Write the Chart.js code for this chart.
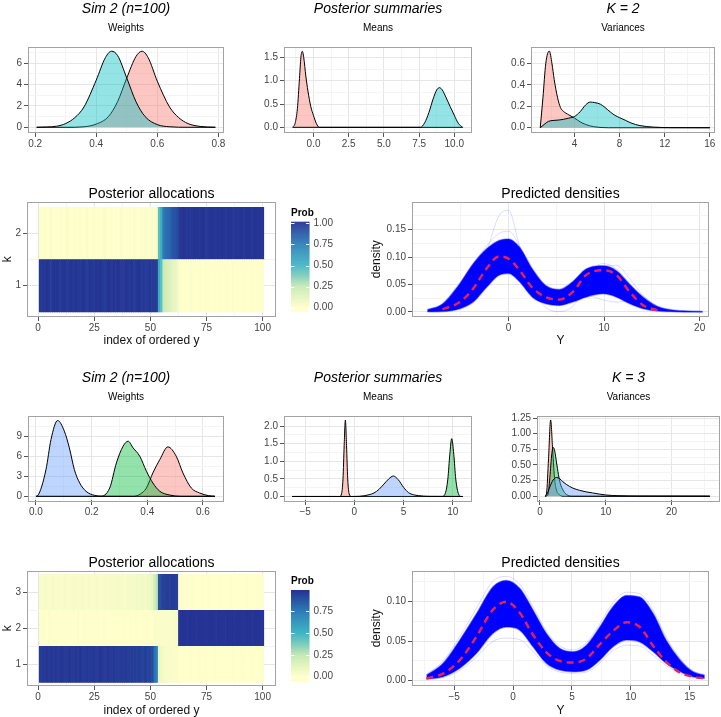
<!DOCTYPE html>
<html>
<head>
<meta charset="utf-8">
<script src="https://cdn.jsdelivr.net/npm/chart.js@4.4.1/dist/chart.umd.min.js"></script>
<style>
  body { margin: 0; background: #fff; }
  #fig { position: relative; width: 721px; height: 717px; overflow: hidden; }
  .pane { position: absolute; }
</style>
</head>
<body>
<div id="fig"></div>
<script>
// ---- K = 2 : posterior densities (x = value, y = density) ----
const w2RedX = [0.205, 0.30, 0.36, 0.40, 0.44, 0.47, 0.50, 0.53, 0.55, 0.57, 0.60, 0.64, 0.67, 0.70, 0.74, 0.79];
const w2RedY = [0, 0, 0.05, 0.3, 1.0, 2.4, 4.6, 6.6, 7.1, 6.5, 4.3, 1.9, 0.9, 0.35, 0.08, 0];
const w2CyanX = [0.205, 0.27, 0.30, 0.33, 0.36, 0.40, 0.43, 0.45, 0.47, 0.50, 0.53, 0.56, 0.60, 0.64, 0.70, 0.79];
const w2CyanY = [0, 0.1, 0.35, 0.9, 1.9, 4.4, 6.5, 7.1, 6.7, 4.6, 2.4, 1.0, 0.25, 0.05, 0, 0];

const m2RedX = [-1.48, -1.3, -1.15, -1.0, -0.9, -0.8, -0.7, -0.55, -0.4, -0.2, 0.0, 0.2, 0.41, 10.6];
const m2RedY = [0, 0.1, 0.4, 1.05, 1.5, 1.63, 1.5, 1.1, 0.78, 0.45, 0.25, 0.08, 0, 0];
const m2CyanX = [-1.48, 7.6, 7.9, 8.2, 8.5, 8.75, 8.95, 9.15, 9.4, 9.7, 10.0, 10.3, 10.6];
const m2CyanY = [0, 0, 0.1, 0.32, 0.61, 0.8, 0.85, 0.8, 0.65, 0.45, 0.26, 0.08, 0];

const v2RedX = [0.96, 1.2, 1.45, 1.76, 2.0, 2.2, 2.5, 2.75, 3.0, 3.5, 4.0, 4.5, 5.0, 5.7, 7, 16];
const v2RedY = [0, 0.28, 0.6, 0.718, 0.6, 0.45, 0.28, 0.19, 0.155, 0.12, 0.09, 0.055, 0.03, 0.01, 0, 0];
const v2CyanX = [0.96, 1.3, 1.7, 2.1, 2.6, 3.0, 3.5, 4.0, 4.5, 5.0, 5.4, 5.8, 6.3, 6.7, 7.2, 7.6, 8.0, 8.5, 9.0, 9.8, 11, 12.5, 16];
const v2CyanY = [0, 0.03, 0.06, 0.068, 0.072, 0.078, 0.09, 0.105, 0.15, 0.215, 0.24, 0.235, 0.22, 0.19, 0.145, 0.115, 0.094, 0.07, 0.045, 0.02, 0.006, 0.001, 0];

// ---- K = 3 : posterior densities ----
const w3RedX = [0.0, 0.35, 0.375, 0.397, 0.42, 0.445, 0.474, 0.504, 0.528, 0.558, 0.588, 0.62, 0.643];
const w3RedY = [0, 0, 0.35, 1.25, 3.5, 5.5, 7.4, 6.0, 3.5, 1.25, 0.5, 0.1, 0];
const w3GreenX = [0.0, 0.23, 0.265, 0.289, 0.313, 0.331, 0.349, 0.373, 0.397, 0.42, 0.445, 0.48, 0.52, 0.643];
const w3GreenY = [0, 0, 1.25, 5.0, 7.5, 8.25, 7.25, 6.0, 3.75, 2.0, 0.75, 0.2, 0, 0];
const w3BlueX = [0.0, 0.006, 0.036, 0.054, 0.078, 0.102, 0.12, 0.138, 0.157, 0.18, 0.21, 0.25, 0.643];
const w3BlueY = [0, 0.1, 4.0, 8.5, 11.35, 9.75, 7.25, 4.0, 2.0, 0.75, 0.15, 0, 0];

const m3RedX = [-6.3, -1.5, -1.3, -1.15, -1.03, -0.91, -0.79, -0.67, -0.52, -0.3, 11];
const m3RedY = [0, 0, 0.07, 0.5, 1.45, 2.17, 1.45, 0.5, 0.07, 0, 0];
const m3GreenX = [-6.3, 8.9, 9.2, 9.5, 9.7, 9.89, 10.1, 10.3, 10.6, 10.85, 11];
const m3GreenY = [0, 0, 0.06, 0.5, 1.2, 1.64, 1.2, 0.5, 0.06, 0, 0];
const m3BlueX = [-6.3, 0, 1.0, 1.5, 2.0, 2.5, 3.0, 3.5, 3.96, 4.45, 5.0, 5.5, 6.0, 6.5, 7.5, 11];
const m3BlueY = [0, 0, 0.02, 0.05, 0.1, 0.2, 0.35, 0.5, 0.58, 0.48, 0.26, 0.11, 0.05, 0.025, 0.005, 0];

const v3RedX = [0.76, 1.0, 1.3, 1.62, 1.9, 2.2, 2.5, 2.9, 3.5, 25.8];
const v3RedY = [0, 0.05, 0.6, 1.22, 0.8, 0.3, 0.1, 0.03, 0, 0];
const v3GreenX = [0.76, 1.2, 1.5, 1.8, 2.02, 2.25, 2.5, 2.8, 3.1, 3.5, 4.0, 5.0, 25.8];
const v3GreenY = [0, 0.02, 0.3, 0.68, 0.78, 0.72, 0.55, 0.35, 0.2, 0.1, 0.03, 0, 0];
const v3BlueX = [0.76, 1.0, 1.5, 2.0, 2.53, 3.0, 3.5, 4.0, 5.0, 6.0, 7.0, 8.0, 9.0, 10.0, 12.0, 15.0, 25.8];
const v3BlueY = [0, 0.02, 0.15, 0.26, 0.30, 0.28, 0.23, 0.19, 0.13, 0.095, 0.07, 0.053, 0.035, 0.02, 0.008, 0.002, 0];

// ---- posterior allocation probabilities, one value per ordered observation ----
const k2p1 = [0.99,1,0.98,1,0.99,0.97,1,0.99,1,0.98, 0.99,1,0.97,0.99,1,0.98,1,0.99,0.98,1,
  0.99,0.97,1,0.99,0.98,1,0.99,1,0.98,0.97, 1,0.99,0.98,1,0.99,1,0.97,0.98,1,0.99,
  0.98,1,0.97,0.99,1,0.98,0.99,0.97,0.98,0.99, 0.97,0.98,0.96,0.55,0.45,0.24,0.2,0.18,0.15,0.12,
  0.1,0.08,0.02,0.01,0,0.01,0,0.02,0.01,0, 0,0.01,0,0,0.02,0.01,0,0,0.01,0,
  0.01,0,0,0.01,0,0,0.02,0,0.01,0, 0,0.01,0,0,0.01,0,0,0.01,0,0];
const k2p2 = [0.01,0,0.02,0,0.01,0.03,0,0.01,0,0.02, 0.01,0,0.03,0.01,0,0.02,0,0.01,0.02,0,
  0.01,0.03,0,0.01,0.02,0,0.01,0,0.02,0.03, 0,0.01,0.02,0,0.01,0,0.03,0.02,0,0.01,
  0.02,0,0.03,0.01,0,0.02,0.01,0.03,0.02,0.01, 0.03,0.02,0.04,0.45,0.55,0.76,0.8,0.82,0.85,0.88,
  0.9,0.92,0.98,0.99,1,0.99,1,0.98,0.99,1, 1,0.99,1,1,0.98,0.99,1,1,0.99,1,
  0.99,1,1,0.99,1,1,0.98,1,0.99,1, 1,0.99,1,1,0.99,1,1,0.99,1,1];
const k3p1 = [0.96,0.97,0.95,0.97,0.96,0.98,0.95,0.97,0.96,0.97, 0.97,0.95,0.96,0.98,0.96,0.95,0.97,0.96,0.98,0.95,
  0.96,0.97,0.95,0.96,0.97,0.95,0.96,0.98,0.96,0.95, 0.97,0.96,0.95,0.97,0.96,0.94,0.96,0.95,0.97,0.95,
  0.94,0.96,0.95,0.93,0.95,0.94,0.93,0.95,0.92,0.93, 0.91,0.78,0.72,0.1,0.06,0.05,0.04,0.03,0.03,0.02,
  0.02,0.02,0.01,0,0.01,0,0,0.01,0,0, 0,0.01,0,0,0.01,0,0,0,0.01,0,
  0,0,0.01,0,0,0,0.01,0,0,0, 0.01,0,0,0,0.01,0,0,0,0,0.01];
const k3p2 = [0.01,0.01,0.01,0,0.02,0.01,0.01,0.01,0.01,0, 0.01,0.01,0.01,0,0.01,0.01,0,0.02,0,0.01,
  0.01,0.01,0.01,0.01,0.01,0.01,0.01,0,0.01,0.01, 0,0,0.01,0,0,0,0,0.01,0,0,
  0.01,0,0,0.01,0,0,0.01,0,0.01,0, 0,0.02,0.02,0.02,0.02,0.02,0.02,0.02,0.02,0.02,
  0.03,0.04,0.97,0.98,0.99,0.98,0.99,0.98,0.98,0.99, 0.99,0.98,0.98,0.99,0.98,0.98,0.99,0.99,0.98,0.99,
  0.98,0.99,0.98,0.99,0.99,0.98,0.98,0.99,0.99,0.98, 0.98,0.99,0.98,0.99,0.98,0.99,0.99,0.98,0.99,0.98];
const k3p3 = [0.03,0.02,0.04,0.03,0.02,0.03,0.04,0.02,0.03,0.03, 0.02,0.04,0.03,0.02,0.03,0.04,0.03,0.02,0.03,0.04,
  0.03,0.02,0.04,0.03,0.02,0.04,0.03,0.02,0.03,0.04, 0.03,0.04,0.04,0.03,0.04,0.05,0.04,0.04,0.03,0.05,
  0.05,0.04,0.05,0.06,0.05,0.06,0.06,0.05,0.07,0.07, 0.09,0.2,0.26,0.88,0.92,0.93,0.94,0.95,0.95,0.96,
  0.95,0.94,0.01,0.01,0,0.01,0,0,0.01,0, 0,0,0.01,0,0,0.01,0,0,0,0,
  0.01,0,0,0,0,0.01,0,0,0,0.01, 0,0,0.01,0,0,0,0,0.01,0,0];
const probLimK2 = 1.0;
const probLimK3 = 0.98;
const probTicksK2 = [0, 0.25, 0.5, 0.75, 1.0];
const probLabelsK2 = ['0.00', '0.25', '0.50', '0.75', '1.00'];
const probTicksK3 = [0, 0.25, 0.5, 0.75];
const probLabelsK3 = ['0.00', '0.25', '0.50', '0.75'];

// ---- predicted densities: envelope of the draws, posterior mean, a few stray draws ----
const d2X = [-8.5, -6.9, -5.1, -3.7, -2.3, -1.0, 0, 1.15, 2.5, 3.9, 5.3, 6.7, 8.1, 9.9, 11.3, 12.7, 14.1, 15.6, 17.4, 19.2, 20.3];
const d2Upper = [0.004, 0.015, 0.052, 0.088, 0.115, 0.13, 0.133, 0.118, 0.078, 0.048, 0.041, 0.055, 0.078, 0.084, 0.075, 0.05, 0.027, 0.01, 0.003, 0.0015, 0.001];
const d2Lower = [0.0005, 0.001, 0.006, 0.018, 0.045, 0.067, 0.07, 0.055, 0.027, 0.015, 0.012, 0.018, 0.027, 0.033, 0.027, 0.015, 0.006, 0.002, 0.0005, 0, 0];
const d2Spike = [0.002, 0.006, 0.02, 0.05, 0.11, 0.175, 0.185, 0.12, 0.055, 0.03, 0.025, 0.035, 0.06, 0.075, 0.068, 0.045, 0.02, 0.006, 0.002, 0.001, 0.0005];
const d2High = [0.003, 0.012, 0.045, 0.085, 0.12, 0.143, 0.147, 0.12, 0.07, 0.04, 0.035, 0.045, 0.07, 0.088, 0.078, 0.05, 0.025, 0.008, 0.002, 0.001, 0];
const d2Dip = [0.001, 0.004, 0.015, 0.04, 0.08, 0.11, 0.115, 0.09, 0.04, 0.008, 0.001, 0.01, 0.045, 0.08, 0.085, 0.06, 0.03, 0.01, 0.002, 0, 0];
const d2Low = [0.001, 0.003, 0.012, 0.03, 0.055, 0.07, 0.072, 0.06, 0.04, 0.03, 0.028, 0.03, 0.03, 0.022, 0.018, 0.02, 0.012, 0.004, 0.001, 0, 0];
const d2MeanX = [-6.9, -5.1, -3.7, -2.3, -1.0, 0, 1.15, 2.5, 3.9, 5.3, 6.7, 8.1, 9.9, 11.3, 12.7, 14.1, 15.6];
const d2Mean = [0.005, 0.018, 0.0425, 0.079, 0.101, 0.097, 0.076, 0.044, 0.027, 0.0225, 0.036, 0.067, 0.076, 0.067, 0.036, 0.012, 0.003];

const d3X = [-7.35, -5.94, -4.52, -3.1, -1.7, -0.57, 0.57, 1.7, 2.83, 3.96, 5.1, 6.23, 7.36, 8.49, 9.63, 10.76, 11.9, 13.0, 14.2, 15.28, 16.27];
const d3Upper = [0.007, 0.022, 0.0515, 0.085, 0.119, 0.127, 0.117, 0.0895, 0.06, 0.041, 0.0367, 0.045, 0.068, 0.094, 0.108, 0.106, 0.085, 0.0515, 0.026, 0.0114, 0.007];
const d3Lower = [0.002, 0.005, 0.0157, 0.0347, 0.06, 0.068, 0.064, 0.043, 0.022, 0.0135, 0.0114, 0.0135, 0.026, 0.043, 0.0515, 0.049, 0.0367, 0.022, 0.0114, 0.005, 0.003];
const d3High = [0.008, 0.025, 0.056, 0.092, 0.126, 0.132, 0.122, 0.094, 0.063, 0.044, 0.039, 0.048, 0.072, 0.099, 0.112, 0.11, 0.089, 0.055, 0.028, 0.012, 0.007];
const d3Low = [0.001, 0.004, 0.013, 0.03, 0.05, 0.054, 0.052, 0.037, 0.019, 0.011, 0.0095, 0.011, 0.022, 0.038, 0.045, 0.044, 0.032, 0.019, 0.009, 0.004, 0.002];
const d3Mean = [0.003, 0.009, 0.026, 0.056, 0.09, 0.1, 0.086, 0.058, 0.036, 0.025, 0.023, 0.028, 0.046, 0.063, 0.074, 0.068, 0.044, 0.024, 0.01, 0.005, 0.003];

// ---- styling ----
const FONT = "'Liberation Sans', Arial, Helvetica, sans-serif";
const INK = '#444';
const RED = '248,118,109', CYAN = '0,191,196', GREEN = '0,186,56', BLUE = '97,156,255';
const palStops = [0, 0.25, 0.375, 0.5, 0.75, 1];
const palCols = [[255, 255, 204], [199, 233, 180], [127, 205, 187], [65, 182, 196], [44, 127, 184], [37, 52, 148]];

Chart.defaults.font.family = FONT;

function fillColor(t) {
  t = Math.max(0, Math.min(1, t));
  let i = 0;
  while (i < palStops.length - 2 && t > palStops[i + 1]) i++;
  const f = (t - palStops[i]) / (palStops[i + 1] - palStops[i]);
  const a = palCols[i], b = palCols[i + 1];
  return 'rgb(' + a.map((c, j) => Math.round(c + (b[j] - c) * f)).join(',') + ')';
}

function makeCanvas(box) {
  const d = document.createElement('div');
  d.className = 'pane';
  d.style.left = box.x + 'px'; d.style.top = box.y + 'px';
  d.style.width = box.w + 'px'; d.style.height = box.h + 'px';
  const c = document.createElement('canvas');
  d.appendChild(c);
  document.getElementById('fig').appendChild(d);
  return c;
}

// linear axis with ggplot-like major + minor grid
function axis(a) {
  const major = a.major, minor = a.minor || [];
  return {
    type: 'linear', min: a.min, max: a.max, offset: false,
    afterBuildTicks: s => {
      s.ticks = major.map(v => ({ value: v }))
        .concat(minor.map(v => ({ value: v, minor: true })))
        .sort((p, q) => p.value - q.value);
    },
    afterFit: s => { if (a.x) s.height = a.size; else s.width = a.size; },
    ticks: {
      autoSkip: false, maxRotation: 0, minRotation: 0, padding: a.x ? 1 : 2, color: INK,
      font: { family: FONT, size: 10 },
      callback: v => { const i = major.indexOf(v); return i < 0 ? '' : a.labels[i]; }
    },
    grid: {
      offset: false, tickLength: 5,
      color: c => (c.tick && c.tick.minor) ? '#f4f4f4' : '#e6e6e6',
      tickColor: c => (c.tick && c.tick.minor) ? 'rgba(0,0,0,0)' : '#555'
    },
    border: { display: false },
    title: a.title
      ? { display: true, text: a.title, color: '#111', font: { family: FONT, size: 12 }, padding: 0 }
      : { display: false }
  };
}

const boxPlugin = {
  id: 'panelBox',
  afterDatasetsDraw(chart) {
    const a = chart.chartArea, ctx = chart.ctx;
    ctx.save();
    ctx.strokeStyle = '#a3a3a3';
    ctx.lineWidth = 1;
    ctx.strokeRect(Math.round(a.left) - 0.5, Math.round(a.top) - 0.5,
      Math.round(a.right - a.left) + 1, Math.round(a.bottom - a.top) + 1);
    ctx.restore();
  }
};

function titles(main, sub, italic, pads) {
  return {
    title: {
      display: true, text: main, fullSize: false, color: '#000',
      font: { family: FONT, size: 14, style: italic ? 'italic' : 'normal', weight: 'normal' },
      padding: { top: pads[0], bottom: pads[1] }
    },
    subtitle: sub ? {
      display: true, text: sub, fullSize: false, color: '#000',
      font: { family: FONT, size: 10 }, padding: { top: pads[2], bottom: pads[3] }
    } : { display: false },
    legend: { display: false },
    tooltip: { enabled: false }
  };
}

function baseOptions(padR, scales, plugins) {
  return {
    responsive: true, maintainAspectRatio: false, animation: false, events: [],
    layout: { padding: { left: 0, right: padR, top: 0, bottom: 0 } },
    scales, plugins
  };
}

function densityPanel(p) {
  const sets = p.curves.map((cv, i) => ({
    data: cv[0].map((x, j) => ({ x, y: cv[1][j] })),
    borderColor: '#000', borderWidth: 1, backgroundColor: 'rgba(' + cv[2] + ',0.42)',
    fill: 'origin', pointRadius: 0, cubicInterpolationMode: 'monotone', order: p.curves.length - i
  }));
  new Chart(makeCanvas(p.box), {
    type: 'line',
    data: { datasets: sets },
    options: baseOptions(p.padR, {
      x: axis(Object.assign({ x: true, size: 18 }, p.xa)),
      y: axis(Object.assign({ x: false, size: p.yW }, p.ya))
    }, titles(p.title, p.sub, true, p.pads)),
    plugins: [boxPlugin]
  });
}

function colorbarPlugin(box, cb) {
  return {
    id: 'colorbar',
    afterDraw(chart) {
      const ctx = chart.ctx;
      const x0 = cb.x - box.x, y0 = cb.top - box.y, y1 = cb.bottom - box.y;
      const toY = v => y0 + (cb.hi - v) / (cb.hi - cb.lo) * (y1 - y0);
      ctx.save();
      for (let py = y0; py < y1; py += 1) {
        const v = cb.hi - (py + 0.5 - y0) / (y1 - y0) * (cb.hi - cb.lo);
        ctx.fillStyle = fillColor(v / cb.lim);
        ctx.fillRect(x0, py, cb.w, Math.min(1.2, y1 - py));
      }
      ctx.strokeStyle = '#fff';
      ctx.lineWidth = 1;
      cb.ticks.forEach(v => {
        const y = Math.round(toY(v)) + 0.5;
        ctx.beginPath();
        ctx.moveTo(x0, y); ctx.lineTo(x0 + 3.5, y);
        ctx.moveTo(x0 + cb.w - 3.5, y); ctx.lineTo(x0 + cb.w, y);
        ctx.stroke();
      });
      ctx.fillStyle = INK;
      ctx.font = '10px ' + FONT;
      ctx.textBaseline = 'middle';
      ctx.textAlign = 'left';
      cb.ticks.forEach((v, i) => ctx.fillText(cb.labels[i], x0 + cb.w + 4, toY(v)));
      ctx.fillStyle = '#000';
      ctx.font = 'bold 10px ' + FONT;
      ctx.fillText('Prob', x0, cb.titleY - box.y);
      ctx.restore();
    }
  };
}

function heatPanel(p) {
  const idx = p.rows[0].map((_, i) => i + 1);
  const sets = p.rows.map((vals, r) => ({
    data: vals.map((v, i) => ({ x: idx[i], y: [r + 0.5, r + 1.5] })),
    backgroundColor: vals.map(v => fillColor(v / p.lim)),
    borderWidth: 0, barPercentage: 1, categoryPercentage: 1, grouped: false
  }));
  new Chart(makeCanvas(p.box), {
    type: 'bar',
    data: { datasets: sets },
    options: baseOptions(70, {
      x: axis({ x: true, size: p.xH, min: -4.5, max: 105.5, major: [0, 25, 50, 75, 100],
        labels: ['0', '25', '50', '75', '100'], minor: [12.5, 37.5, 62.5, 87.5], title: 'index of ordered y' }),
      y: axis(Object.assign({ x: false, size: 28, title: 'k' }, p.ya))
    }, titles('Posterior allocations', null, false, [p.padTop, p.padBottom, 0, 0])),
    plugins: [boxPlugin, colorbarPlugin(p.box, p.cb)]
  });
}

function predictedPanel(p) {
  const pts = (xs, ys) => xs.map((x, i) => ({ x, y: ys[i] }));
  const line = { pointRadius: 0, cubicInterpolationMode: 'monotone', fill: false };
  const sets = [
    Object.assign({ data: pts(p.meanX, p.mean), borderColor: 'rgb(235,35,75)', borderWidth: 2.4, borderDash: [7, 5], order: 0 }, line),
    Object.assign({}, line, { data: pts(p.xs, p.upper), borderColor: 'rgba(30,30,255,0.45)', borderWidth: 1.5,
      fill: '+1', backgroundColor: 'rgb(0,0,255)', order: 1 }),
    Object.assign({ data: pts(p.xs, p.lower), borderColor: 'rgba(30,30,255,0.45)', borderWidth: 1.5, order: 2 }, line)
  ];
  p.stray.forEach((ys, i) => sets.push(Object.assign({ data: pts(p.xs, ys),
    borderColor: 'rgba(0,0,255,0.14)', borderWidth: 1, order: 3 + i }, line)));
  new Chart(makeCanvas(p.box), {
    type: 'line',
    data: { datasets: sets },
    options: baseOptions(6, {
      x: axis(Object.assign({ x: true, size: p.xH, title: 'Y' }, p.xa)),
      y: axis(Object.assign({ x: false, size: 44, title: 'density' }, p.ya))
    }, titles('Predicted densities', null, false, [p.padTop, 0, 0, 0])),
    plugins: [boxPlugin]
  });
}

// ---- row 1 : K = 2 summaries ----
const pads1 = [0.6, 2, 2.9, 13.7];
densityPanel({ box: { x: 0, y: 0, w: 231, h: 150 }, yW: 29, padR: 8, title: 'Sim 2 (n=100)', sub: 'Weights', pads: pads1,
  curves: [[w2RedX, w2RedY, RED], [w2CyanX, w2CyanY, CYAN]],
  xa: { min: 0.18, max: 0.815, major: [0.2, 0.4, 0.6, 0.8], labels: ['0.2', '0.4', '0.6', '0.8'], minor: [0.3, 0.5, 0.7] },
  ya: { min: -0.44, max: 7.4, major: [0, 2, 4, 6], labels: ['0', '2', '4', '6'], minor: [1, 3, 5, 7] } });
densityPanel({ box: { x: 255, y: 0, w: 224, h: 150 }, yW: 30, padR: 8, title: 'Posterior summaries', sub: 'Means', pads: pads1,
  curves: [[m2RedX, m2RedY, RED], [m2CyanX, m2CyanY, CYAN]],
  xa: { min: -2.03, max: 11.19, major: [0, 2.5, 5, 7.5, 10], labels: ['0.0', '2.5', '5.0', '7.5', '10.0'], minor: [-1.25, 1.25, 3.75, 6.25, 8.75] },
  ya: { min: -0.1, max: 1.7, major: [0, 0.5, 1, 1.5], labels: ['0.0', '0.5', '1.0', '1.5'], minor: [0.25, 0.75, 1.25] } });
densityPanel({ box: { x: 502, y: 0, w: 218, h: 150 }, yW: 30, padR: 6, title: 'K = 2', sub: 'Variances', pads: pads1,
  curves: [[v2RedX, v2RedY, RED], [v2CyanX, v2CyanY, CYAN]],
  xa: { min: 0.23, max: 16.37, major: [4, 8, 12, 16], labels: ['4', '8', '12', '16'], minor: [2, 6, 10, 14] },
  ya: { min: -0.04, max: 0.746, major: [0, 0.2, 0.4, 0.6], labels: ['0.0', '0.2', '0.4', '0.6'], minor: [0.1, 0.3, 0.5, 0.7] } });

// ---- row 2 : K = 2 allocations and predictions ----
heatPanel({ box: { x: 0, y: 180, w: 345, h: 168 }, xH: 32, padTop: 5.8, padBottom: 0.1, rows: [k2p1, k2p2], lim: probLimK2,
  ya: { min: 0.42, max: 2.59, major: [1, 2], labels: ['1', '2'], minor: [1.5] },
  cb: { x: 291, w: 18.5, top: 221.7, bottom: 311.7, lo: -0.047, hi: 1.019, lim: probLimK2, ticks: probTicksK2, labels: probLabelsK2, titleY: 213.3 } });
predictedPanel({ box: { x: 369, y: 180, w: 345, h: 168 }, xH: 32, padTop: 5.8,
  xs: d2X, upper: d2Upper, lower: d2Lower, meanX: d2MeanX, mean: d2Mean, stray: [d2Spike, d2High, d2Dip, d2Low],
  xa: { min: -10, max: 20.87, major: [0, 10, 20], labels: ['0', '10', '20'], minor: [-5, 5, 15] },
  ya: { min: -0.0073, max: 0.199, major: [0, 0.05, 0.1, 0.15], labels: ['0.00', '0.05', '0.10', '0.15'], minor: [0.025, 0.075, 0.125, 0.175] } });

// ---- row 3 : K = 3 summaries ----
const pads3 = [9.9, 2, 2.5, 13.3];
densityPanel({ box: { x: 0, y: 360, w: 231, h: 158 }, yW: 29, padR: 8, title: 'Sim 2 (n=100)', sub: 'Weights', pads: pads3,
  curves: [[w3RedX, w3RedY, RED], [w3GreenX, w3GreenY, GREEN], [w3BlueX, w3BlueY, BLUE]],
  xa: { min: -0.025, max: 0.672, major: [0, 0.2, 0.4, 0.6], labels: ['0.0', '0.2', '0.4', '0.6'], minor: [0.1, 0.3, 0.5] },
  ya: { min: -0.55, max: 11.95, major: [0, 3, 6, 9], labels: ['0', '3', '6', '9'], minor: [1.5, 4.5, 7.5, 10.5] } });
densityPanel({ box: { x: 255, y: 360, w: 224, h: 158 }, yW: 30, padR: 8, title: 'Posterior summaries', sub: 'Means', pads: pads3,
  curves: [[m3RedX, m3RedY, RED], [m3GreenX, m3GreenY, GREEN], [m3BlueX, m3BlueY, BLUE]],
  xa: { min: -7.04, max: 11.85, major: [-5, 0, 5, 10], labels: ['\u22125', '0', '5', '10'], minor: [-2.5, 2.5, 7.5] },
  ya: { min: -0.1, max: 2.27, major: [0, 0.5, 1, 1.5, 2], labels: ['0.0', '0.5', '1.0', '1.5', '2.0'], minor: [0.25, 0.75, 1.25, 1.75] } });
densityPanel({ box: { x: 508, y: 360, w: 213, h: 158 }, yW: 30, padR: 2, title: 'K = 3', sub: 'Variances', pads: pads3,
  curves: [[v3RedX, v3RedY, RED], [v3GreenX, v3GreenY, GREEN], [v3BlueX, v3BlueY, BLUE]],
  xa: { min: -0.3, max: 27.2, major: [0, 10, 20], labels: ['0', '10', '20'], minor: [5, 15, 25] },
  ya: { min: -0.06, max: 1.275, major: [0, 0.25, 0.5, 0.75, 1, 1.25], labels: ['0.00', '0.25', '0.50', '0.75', '1.00', '1.25'],
    minor: [0.125, 0.375, 0.625, 0.875, 1.125] } });

// ---- row 4 : K = 3 allocations and predictions ----
heatPanel({ box: { x: 0, y: 550, w: 345, h: 168 }, xH: 33, padTop: 4.9, padBottom: 0, rows: [k3p1, k3p2, k3p3], lim: probLimK3,
  ya: { min: 0.43, max: 3.57, major: [1, 2, 3], labels: ['1', '2', '3'], minor: [1.5, 2.5] },
  cb: { x: 291, w: 18.5, top: 590, bottom: 681.7, lo: -0.058, hi: 0.99, lim: probLimK3, ticks: probTicksK3, labels: probLabelsK3, titleY: 581.7 } });
predictedPanel({ box: { x: 369, y: 550, w: 345, h: 168 }, xH: 33, padTop: 4.9,
  xs: d3X, upper: d3Upper, lower: d3Lower, meanX: d3X, mean: d3Mean, stray: [d3High, d3Low],
  xa: { min: -8.49, max: 16.55, major: [-5, 0, 5, 10, 15], labels: ['\u22125', '0', '5', '10', '15'], minor: [-7.5, -2.5, 2.5, 7.5, 12.5] },
  ya: { min: -0.0054, max: 0.138, major: [0, 0.05, 0.1], labels: ['0.00', '0.05', '0.10'], minor: [0.025, 0.075, 0.125] } });
</script>
</body>
</html>
